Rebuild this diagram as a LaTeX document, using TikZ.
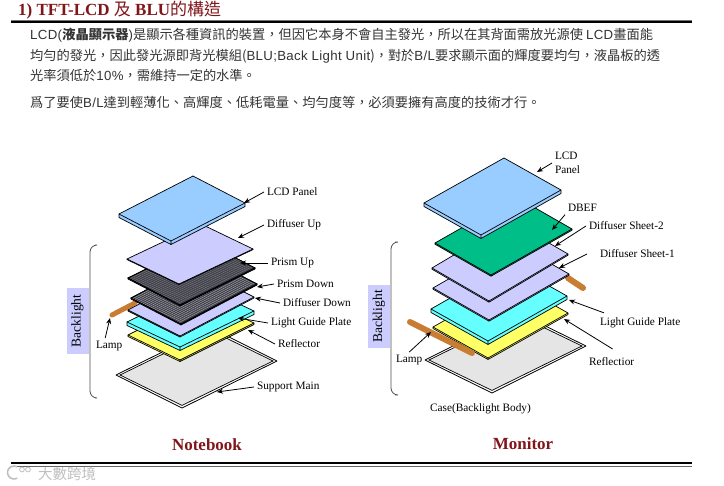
\documentclass[tikz,border=0pt]{standalone}
\usepackage{fontspec}
\setmainfont{Liberation Serif}
\setsansfont[LetterSpace=2.5]{Liberation Sans}
\newfontfamily\cjk{Noto Sans CJK TC}
\usetikzlibrary{arrows.meta, calc}

\definecolor{titlered}{RGB}{128,22,26}
\definecolor{sheetblue}{RGB}{153,204,255}
\definecolor{sheetlav}{RGB}{204,204,255}
\definecolor{sheetdark}{RGB}{66,66,78}
\definecolor{sheetcyan}{RGB}{102,255,255}
\definecolor{sheetyellow}{RGB}{255,255,102}
\definecolor{sheetgreen}{RGB}{0,190,135}
\definecolor{lampbrown}{RGB}{200,125,50}

\tikzset{
  partlabel/.style={font=\fontsize{11.3}{13}\selectfont,inner sep=1pt,outer sep=2pt,text=black},
  headlabel/.style={font=\fontsize{17}{20}\selectfont\bfseries,text=titlered,inner sep=0pt},
  bodytext/.style={font=\fontsize{13.24}{20}\selectfont\cjk,text=black!80,inner sep=0pt,anchor=base west,align=left},
  pointer/.style={-{Stealth[length=6pt,width=5pt]},line width=0.8pt},
  lamptube/.style={line width=5pt,lampbrown,line cap=round},
  sidetag/.style={fill=sheetlav,rotate=90,font=\fontsize{13.5}{15}\selectfont,minimum width=66pt,minimum height=22pt,inner sep=0pt},
  sidebar/.style={black!70,line width=0.8pt,rounded corners=7pt},
}

% left, bottom, right corner, thickness, fill
\newcommand{\plate}[5]{
  \coordinate (pl) at #1;
  \coordinate (pb) at #2;
  \coordinate (pr) at #3;
  \coordinate (pt) at ($(pl)+(pr)-(pb)$);
  \fill[#5] (pl) -- ++(0,#4) -- ($(pb)+(0,#4)$) -- ($(pr)+(0,#4)$) -- (pr) -- (pt) -- cycle;
  \draw[black,line width=0.7pt,line join=round,fill=#5] (pl) -- (pb) -- (pr) -- (pt) -- cycle;
  \draw[black,line width=0.7pt,line join=round] (pl) -- ++(0,#4) -- ($(pb)+(0,#4)$) -- ($(pr)+(0,#4)$) -- (pr) (pb) -- ++(0,#4);
}
% ribs of a prism sheet
\newcommand{\ribs}[1]{
  \foreach \t in {0.03,0.07,...,0.99}{
    \draw[#1,line width=0.35pt] ($(pl)!\t!(pb)$) -- ($(pt)!\t!(pr)$);
  }
  \draw[black,line width=0.7pt] (pl) -- (pb) -- (pr) -- (pt) -- cycle;
}
% frame of the bottom case
\newcommand{\frameplate}[3]{
  \coordinate (pl) at #1;
  \coordinate (pb) at #2;
  \coordinate (pr) at #3;
  \coordinate (pt) at ($(pl)+(pr)-(pb)$);
  \draw[black,line width=0.8pt,line join=round,fill=white] (pl) -- (pb) -- (pr) -- (pt) -- cycle;
  \draw[black,line width=0.7pt,fill=black!10] ($(pl)+(4,0)$) -- ($(pb)+(0,-2.6)$) -- ($(pr)+(-4,0)$) -- ($(pt)+(0,2.6)$) -- cycle;
}

\begin{document}
\begin{tikzpicture}[x=1pt,y=-1pt]
  \useasboundingbox (0,0) rectangle (724,486);

  % title and rules
  \node[headlabel,anchor=base west] (title) at (18,16) {1) TFT-LCD {\cjk\mdseries 及} BLU{\cjk\mdseries 的構造}};
  \draw[black!55,line width=1.2pt] (11,20.4)--(692,20.4);
  \draw[black,line width=2pt] (11,22.4)--(692,22.4);
  \draw[black,line width=2pt] (11,463.5)--(692,463.5);
  \draw[black!60,line width=0.8pt] (11,466)--(692,466);

  % text
  \node[bodytext] (para1) at (30,40) {{\sffamily LCD(}\textbf{液晶顯示器}{\sffamily )}是顯示各種資訊的裝置，但因它本身不會自主發光，所以在其背面需放光源使 {\sffamily LCD}畫面能};
  \node[bodytext] (para2) at (30,61) {均勻的發光，因此發光源即背光模組({\sffamily BLU;Back Light Unit})，對於{\sffamily B/L}要求顯示面的輝度要均勻，液晶板的透};
  \node[bodytext] (para3) at (30,81) {光率須低於{\sffamily 10\%}，需維持一定的水準。};
  \node[bodytext] (para4) at (30,108) {爲了要使{\sffamily B/L}達到輕薄化、高輝度、低耗電量、均勻度等，必須要擁有高度的技術才行。};

  % notebook stack, bottom to top
  \frameplate{(116,375)}{(182,408)}{(277,361)}
  \plate{(128,335)}{(180,360)}{(254,323)}{1.5}{sheetyellow}
  \plate{(127,322)}{(180,347)}{(254,311)}{3.5}{sheetcyan}
  \draw[lamptube] (112,315)--(135,303);
  \plate{(128,310)}{(180,336)}{(254,297)}{1}{sheetlav}
  \plate{(131,298)}{(181,324)}{(257,284)}{1}{sheetdark}\ribs{black!30}
  \plate{(128,278)}{(180,305)}{(255,268)}{1}{sheetdark}\ribs{black!50}
  \plate{(127,259)}{(179,284)}{(253,249)}{0.6}{sheetlav}
  \plate{(119,214)}{(171,241)}{(245,203)}{3.5}{sheetblue}

  % monitor stack, bottom to top
  \frameplate{(425,360)}{(492,393)}{(586,346)}
  \plate{(433,327)}{(488,358)}{(568,313)}{1.5}{sheetyellow}
  \draw[lamptube,line width=6pt] (410,322)--(472,353);
  \plate{(431,309)}{(488,341)}{(567,296)}{3.5}{sheetcyan}
  \draw[lamptube,line width=6pt] (568,278)--(583,288);
  \plate{(433,288)}{(489,320)}{(569,274)}{1.2}{sheetlav}
  \plate{(432,268)}{(489,301)}{(568,254)}{1.2}{sheetlav}
  \plate{(435,243)}{(491,275)}{(572,229)}{1.2}{sheetgreen}
  \plate{(424,203)}{(481,235)}{(561,190)}{3.5}{sheetblue}

  % backlight brackets
  \node[sidetag] (tagnote) at (77.5,321) {Backlight};
  \node[sidetag,minimum width=63pt] (tagmoni) at (379,316.5) {Backlight};
  \draw[sidebar] (95,245) -- (90,245) -- (90,398) -- (95,398);
  \draw[sidebar] (395,242) -- (391,242) -- (391,395) -- (395,395);

  % notebook labels
  \node[partlabel,anchor=west] (lcdN) at (264,192) {LCD Panel};
  \node[partlabel,anchor=west] (difupN) at (264,225) {Diffuser Up};
  \node[partlabel,anchor=west] (priupN) at (268,263) {Prism Up};
  \node[partlabel,anchor=west] (pridnN) at (274,284) {Prism Down};
  \node[partlabel,anchor=west] (difdnN) at (280,303) {Diffuser Down};
  \node[partlabel,anchor=west] (lgpN) at (268,323) {Light Guide Plate};
  \node[partlabel,anchor=west] (refN) at (275,344) {Reflector};
  \node[partlabel,anchor=west] (supN) at (254,387) {Support Main};
  \node[partlabel,anchor=west] (lampN) at (93,346) {Lamp};
  \node[headlabel] (notebook) at (207,445) {Notebook};

  % monitor labels
  \node[partlabel,anchor=west,align=left] (lcdM) at (552,163) {LCD\\[1pt]Panel};
  \node[partlabel,anchor=west] (dbefM) at (565,208) {DBEF};
  \node[partlabel,anchor=west] (dif2M) at (586,226) {Diffuser Sheet-2};
  \node[partlabel,anchor=west] (dif1M) at (597,254) {Diffuser Sheet-1};
  \node[partlabel,anchor=west] (lgpM) at (597,323) {Light Guide Plate};
  \node[partlabel,anchor=west] (refM) at (586,362) {Reflectior};
  \node[partlabel,anchor=west] (lampM) at (393,360) {Lamp};
  \node[partlabel] (caseM) at (480.5,409) {Case(Backlight Body)};
  \node[headlabel] (monitor) at (523,444) {Monitor};

  % arrow tips
  \coordinate (tiplcdN) at (244,203);
  \coordinate (tipdifupN) at (238,238);
  \coordinate (tippriupN) at (240,263);
  \coordinate (tippridnN) at (257,287);
  \coordinate (tipdifdnN) at (255,298);
  \coordinate (tiplgpN) at (238,318);
  \coordinate (tiprefN) at (248,330);
  \coordinate (tipsupN) at (217,392);
  \coordinate (tiplampN) at (110,318);
  \coordinate (tiplcdM) at (537,172);
  \coordinate (tipdbefM) at (552,230);
  \coordinate (tipdif2M) at (555,246);
  \coordinate (tipdif1M) at (559,268);
  \coordinate (tiplgpM) at (569,300);
  \coordinate (tiprefM) at (564,319);
  \coordinate (tiplampM) at (431,332);

  \foreach \a/\b in {lcdN.west/tiplcdN,difupN.west/tipdifupN,priupN.west/tippriupN,pridnN.west/tippridnN,difdnN.west/tipdifdnN,lgpN.west/tiplgpN,refN.west/tiprefN,supN.west/tipsupN,lcdM.west/tiplcdM,dbefM.south west/tipdbefM,dif2M.west/tipdif2M,lampM.north/tiplampM}{
    \draw[pointer] (\a) -- (\b);
  }
  \draw[pointer] ($(lampN.north)+(-4,0)$) -- (tiplampN);
  \draw[pointer] ($(dif1M.west)+(-10,0)$) -- (tipdif1M);
  \draw[pointer] ($(lgpM.north west)+(7,-2)$) -- (tiplgpM);
  \draw[pointer] ($(refM.north)+(1,-6)$) -- (tiprefM);

  % watermark
  \draw[black!25,line width=1.6pt] (17.25,478.1) arc (60:300:6.5);
  \draw[black!25,line width=0.8pt] (22,469.5) circle (2.4pt) (28,469.5) circle (2.4pt);
  \node[font=\fontsize{14.5}{15}\selectfont\cjk,text=black!25,inner sep=0pt,anchor=west] (mark) at (38,474) {大數跨境};
\end{tikzpicture}
\end{document}
